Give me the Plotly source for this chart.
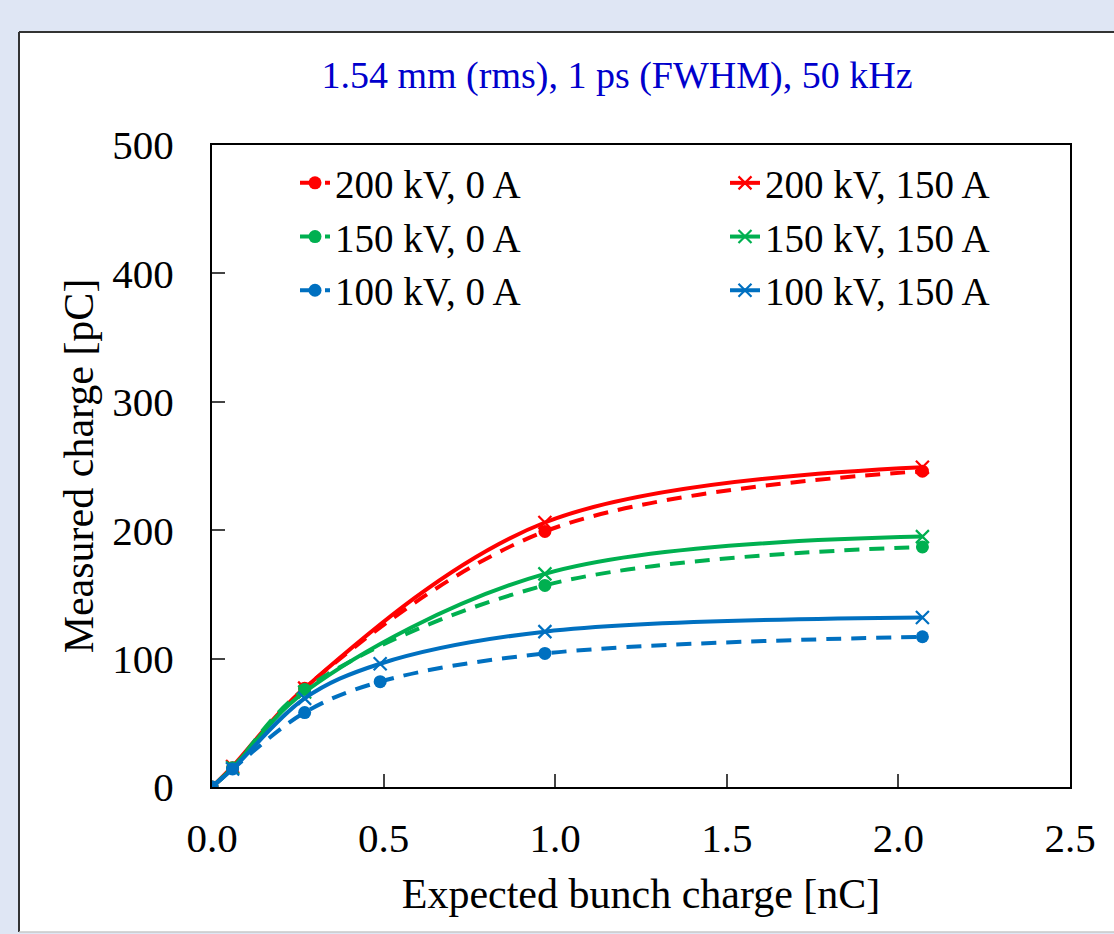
import plotly.graph_objects as go

# ---- data ----
x_main = [0.0, 0.06, 0.27, 0.97, 2.07]
x_blue = [0.0, 0.06, 0.27, 0.49, 0.97, 2.07]

y_200_0 = [0, 15, 77, 199, 246]
y_200_150 = [0, 16, 77, 206, 249]
y_150_0 = [0, 15, 76, 157, 187]
y_150_150 = [0, 15, 74, 166, 195]
y_100_0 = [0, 14, 58, 82, 104, 117]
y_100_150 = [0, 14, 69, 96, 121, 132]

x_ticks = [0.0, 0.5, 1.0, 1.5, 2.0, 2.5]
x_tick_text = ["0.0", "0.5", "1.0", "1.5", "2.0", "2.5"]
y_ticks = [0, 100, 200, 300, 400, 500]

RED, GREEN, BLUE = "#FF0000", "#00B050", "#0070C0"
FONT = "Liberation Serif"

W, H = 1114, 934
L, R, T, B = 212, 44, 145, 147
PW, PH = W - L - R, H - T - B


def px(p):
    return (p - L) / PW


def py(q):
    return (H - B - q) / PH


fig = go.Figure()


def add(x, y, name, color, dashed):
    if dashed:
        marker = dict(symbol="circle", size=13, color=color)
        line = dict(color=color, width=4, dash="15px,10px", shape="spline", smoothing=1)
    else:
        marker = dict(symbol="x-thin", size=13, color=color, line=dict(color=color, width=2.2))
        line = dict(color=color, width=4, shape="spline", smoothing=1)
    fig.add_trace(go.Scatter(x=x, y=y, name=name, mode="lines+markers",
                             line=line, marker=marker))


add(x_main, y_200_0, "200 kV, 0 A", RED, True)
add(x_main, y_200_150, "200 kV, 150 A", RED, False)
add(x_main, y_150_0, "150 kV, 0 A", GREEN, True)
add(x_main, y_150_150, "150 kV, 150 A", GREEN, False)
add(x_blue, y_100_0, "100 kV, 0 A", BLUE, True)
add(x_blue, y_100_150, "100 kV, 150 A", BLUE, False)

axis_common = dict(
    showgrid=False, zeroline=False, showline=True, linecolor="black", linewidth=2,
    mirror=True, ticks="inside", ticklen=13, tickwidth=1.5, tickcolor="#444",
    tickfont=dict(family=FONT, size=41, color="black"),
)

fig.update_xaxes(range=[0, 2.5], tickmode="array", tickvals=x_ticks, ticktext=x_tick_text,
                 ticklabelstandoff=14,
                 title=dict(text="Expected bunch charge [nC]", standoff=18,
                            font=dict(family=FONT, size=42, color="black")),
                 **axis_common)
fig.update_yaxes(range=[0, 500], tickmode="array", tickvals=y_ticks,
                 ticklabelstandoff=28,
                 title=dict(text="Measured charge [pC]", standoff=6,
                            font=dict(family=FONT, size=42, color="black")),
                 **axis_common)

shapes = [
    dict(type="rect", xref="paper", yref="paper", layer="below",
         x0=px(19), x1=px(1130), y0=py(932), y1=py(32),
         fillcolor="white", line=dict(width=0)),
    dict(type="line", xref="paper", yref="paper", x0=px(19), x1=px(19), y0=py(932), y1=py(32),
         line=dict(color="#333333", width=2)),
    dict(type="line", xref="paper", yref="paper", x0=px(19), x1=px(1130), y0=py(32), y1=py(32),
         line=dict(color="#333333", width=2)),
    dict(type="line", xref="paper", yref="paper", x0=px(19), x1=px(1130), y0=py(932), y1=py(932),
         line=dict(color="#C8C8C8", width=1.5)),
]

fig.update_layout(
    width=W, height=H,
    margin=dict(l=L, r=R, t=T, b=B, autoexpand=False),
    paper_bgcolor="#DFE6F4", plot_bgcolor="white",
    font=dict(family=FONT, color="black"),
    title=dict(text="1.54 mm (rms), 1 ps (FWHM), 50 kHz", x=px(617), xref="paper",
               xanchor="center", y=1 - 75 / H, yanchor="middle",
               font=dict(family=FONT, size=38, color="#0000CC")),
    legend=dict(orientation="h", x=px(295), xanchor="left", y=py(151), yanchor="top",
                entrywidth=385, entrywidthmode="pixels", bgcolor="rgba(0,0,0,0)",
                font=dict(family=FONT, size=39, color="black"), itemwidth=30,
                traceorder="normal"),
    shapes=shapes,
    showlegend=True,
)

fig.write_html("out.html")
